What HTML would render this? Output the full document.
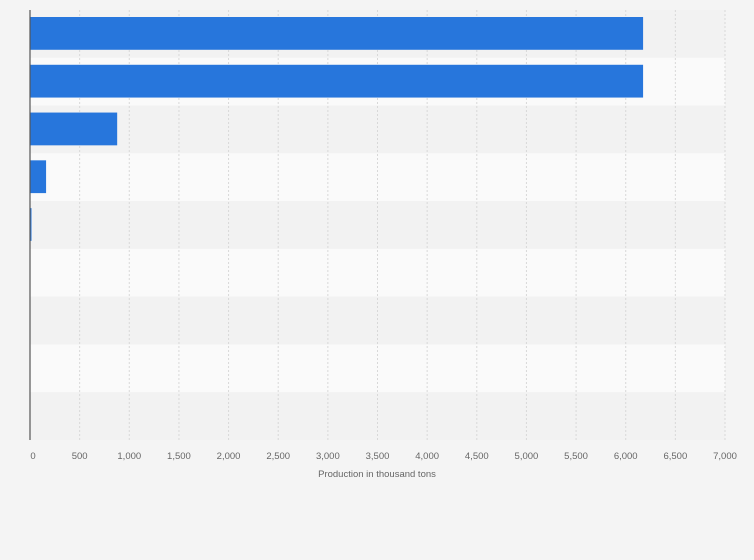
<!DOCTYPE html>
<html><head><meta charset="utf-8"><style>
body{margin:0;background:#f4f4f4;font-family:"Liberation Sans",sans-serif;}
svg{display:block}
</style></head><body>
<svg id="chart" width="754" height="560">
<rect width="754" height="560" fill="#f4f4f4"/>
<g id="rows"></g><g id="grid"></g><g id="bars"></g><g id="ticks"></g>
<line x1="30" y1="10" x2="30" y2="440" stroke="#555" stroke-width="1.2"/>
<text x="377" y="477" text-anchor="middle" font-size="9.5" fill="#666">Production in thousand tons</text>
</svg>
<script>
const categories = ["r1","r2","r3","r4","r5","r6","r7","r8","r9"];
const values = [6175, 6175, 878, 162, 15, 0, 0, 0, 0];
const tickValues = [0,500,1000,1500,2000,2500,3000,3500,4000,4500,5000,5500,6000,6500,7000];
const tickLabels = ["0","500","1,000","1,500","2,000","2,500","3,000","3,500","4,000","4,500","5,000","5,500","6,000","6,500","7,000"];
const NS="http://www.w3.org/2000/svg";
const x0=30,x1=725,maxV=7000,plotTop=10,plotBottom=440;
const xs=v=>x0+(x1-x0)*v/maxV;
const rowH=(plotBottom-plotTop)/categories.length;
function mk(t,a,p){const e=document.createElementNS(NS,t);for(const k in a)e.setAttribute(k,a[k]);p.appendChild(e);return e;}
const rowsG=document.getElementById('rows'),gridG=document.getElementById('grid'),barsG=document.getElementById('bars'),ticksG=document.getElementById('ticks');
categories.forEach((c,i)=>{
  const r=mk('rect',{x:x0,y:plotTop+i*rowH,width:x1-x0,height:rowH,fill:i%2?'#fafafa':'#f2f2f2'},rowsG);
  
  
  const b=mk('rect',{x:x0,y:plotTop+i*rowH+7,width:Math.max(0,xs(values[i])-x0),height:rowH-15,fill:'#2776dc'},barsG);
  
  
});
tickValues.forEach((v,i)=>{
  if(v>0){const g=mk('line',{x1:xs(v),y1:plotTop,x2:xs(v),y2:plotBottom,stroke:'#d8d8d8','stroke-dasharray':'2,2'},gridG);
  
  }
  const t=mk('text',{x:xs(v)+(v===0?3:0),y:459,'text-anchor':'middle','font-size':'9.5',fill:'#666'},ticksG);
  t.textContent=tickLabels[i];
  
  
});
</script>
</body></html>
